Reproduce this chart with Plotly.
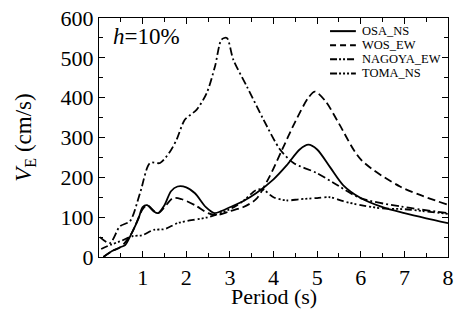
import plotly.graph_objects as go

osa_T = [0.1, 0.3, 0.5, 0.6, 0.75, 0.9, 1.0, 1.1, 1.25, 1.35, 1.5, 1.65, 1.8, 2.0, 2.2, 2.45, 2.65, 2.8, 3.0, 3.3, 3.6, 4.0, 4.3, 4.6, 4.8, 5.0, 5.3, 5.6, 6.0, 6.5, 7.0, 7.5, 8.0]
osa_V = [0, 15, 25, 30, 60, 95, 125, 130, 115, 110, 130, 165, 177, 175, 160, 125, 110, 115, 125, 140, 160, 195, 230, 270, 282, 270, 225, 180, 148, 125, 110, 97, 85]

wos_T = [0.1, 0.3, 0.5, 0.75, 1.0, 1.1, 1.35, 1.7, 1.9, 2.2, 2.5, 2.7, 3.0, 3.3, 3.6, 3.9, 4.2, 4.5, 4.8, 4.95, 5.2, 5.5, 6.0, 6.9, 8.0]
wos_V = [0, 15, 25, 60, 120, 130, 110, 148, 145, 130, 110, 105, 115, 125, 145, 200, 270, 340, 400, 415, 390, 335, 245, 177, 131]

nag_T = [0.02, 0.25, 0.48, 0.71, 0.94, 1.17, 1.4, 1.63, 1.78, 1.97, 2.24, 2.47, 2.66, 2.81, 2.93, 3.08, 3.39, 3.77, 4.15, 4.46, 4.99, 5.38, 5.99, 6.9, 8.0]
nag_V = [50, 35, 77, 90, 160, 236, 236, 265, 295, 345, 370, 412, 479, 546, 550, 495, 428, 345, 270, 236, 211, 186, 148, 127, 110]

toma_T = [0.05, 0.25, 0.5, 0.75, 1.0, 1.25, 1.5, 1.8, 2.0, 2.5, 3.0, 3.3, 3.6, 3.75, 4.0, 4.3, 4.6, 5.0, 5.3, 5.6, 6.0, 6.5, 7.0, 8.0]
toma_V = [20, 30, 40, 52, 55, 68, 70, 85, 90, 100, 120, 140, 168, 170, 150, 142, 145, 148, 150, 140, 130, 122, 120, 108]

names = ["OSA_NS", "WOS_EW", "NAGOYA_EW", "TOMA_NS"]
x_ticks = [1, 2, 3, 4, 5, 6, 7, 8]
y_ticks = [0, 100, 200, 300, 400, 500, 600]

FONT = "Liberation Serif, Times New Roman, serif"
dashes = ["solid", "8px,4px", "8px,3px,2px,3px", "7px,3px,2px,2px,2px,2px,2px,3px"]
legend_dashes = ["solid", "6px,4px", "7px,2px,2px,2px,2px,2px", "7px,2px,2px,2px,2px,2px,2px,2px"]

fig = go.Figure()
for t, v, d, n in zip([osa_T, wos_T, nag_T, toma_T], [osa_V, wos_V, nag_V, toma_V], dashes, names):
    fig.add_trace(go.Scatter(x=t, y=v, mode="lines", name=n, showlegend=False,
                             line=dict(color="black", width=1.8, dash=d, shape="spline", smoothing=0.8)))

# compact legend (drawn in paper coordinates, like the original's tight legend block)
leg_y = [0.945, 0.886, 0.827, 0.768]
for yy, d, n in zip(leg_y, legend_dashes, names):
    fig.add_shape(type="line", xref="paper", yref="paper", x0=0.662, x1=0.736, y0=yy, y1=yy,
                  line=dict(color="black", width=2, dash=d))
    fig.add_annotation(text=n, xref="paper", yref="paper", x=0.752, y=yy, xanchor="left", yanchor="middle",
                       showarrow=False, borderpad=0, font=dict(family=FONT, size=12.5, color="black"))

axis_common = dict(showgrid=False, zeroline=False, showline=True, linecolor="black", linewidth=1.2,
                   mirror="ticks", ticks="inside", ticklen=6, tickwidth=1, tickcolor="black",
                   automargin=False,
                   tickfont=dict(family=FONT, size=22, color="black"))
fig.update_xaxes(range=[0, 8], tickvals=x_ticks, ticktext=[str(v) for v in x_ticks],
                 minor=dict(dtick=0.5, ticks="inside", ticklen=4, tickcolor="black", showgrid=False),
                 **axis_common)
fig.update_yaxes(range=[0, 600], tickvals=y_ticks, ticktext=[str(v) for v in y_ticks],
                 minor=dict(dtick=50, ticks="inside", ticklen=4, tickcolor="black", showgrid=False),
                 title=dict(text="<i>V</i><sub>E</sub> (cm/s)", font=dict(family=FONT, size=23, color="black"), standoff=22),
                 **axis_common)
fig.add_annotation(text="Period (s)", xref="paper", yref="paper", x=0.5, y=-0.22,
                   xanchor="center", yanchor="bottom", showarrow=False, borderpad=0,
                   font=dict(family=FONT, size=22, color="black"))
fig.add_annotation(text="<i>h</i>=10%", xref="paper", yref="paper", x=0.035, y=0.985,
                   xanchor="left", yanchor="top", showarrow=False,
                   font=dict(family=FONT, size=23, color="black"))
fig.update_layout(width=454, height=311, margin=dict(l=99, r=6, t=18, b=54),
                  paper_bgcolor="white", plot_bgcolor="white", showlegend=False)
fig.write_html("out.html", config={"displayModeBar": False},
               post_script="document.body.style.margin='0';document.body.style.overflow='hidden';")
